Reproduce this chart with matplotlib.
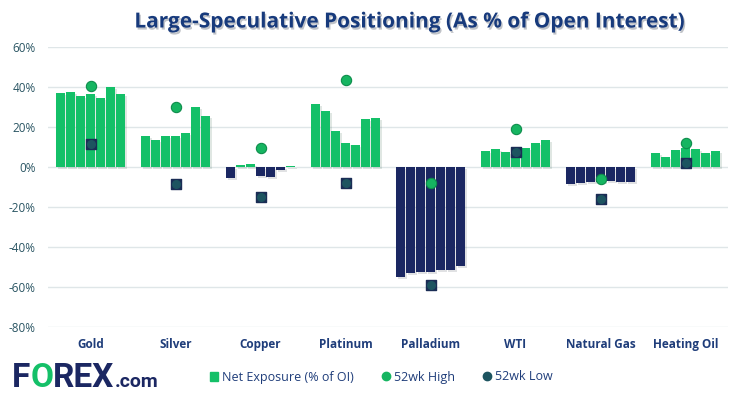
import numpy as np
import matplotlib.pyplot as plt
import matplotlib.patheffects as pe
from matplotlib.lines import Line2D
from matplotlib.patches import Patch

categories = ["Gold", "Silver", "Copper", "Platinum", "Palladium", "WTI", "Natural Gas", "Heating Oil"]
net_exposure = [
    [37, 37.5, 35.5, 36.5, 34.5, 40, 36.5],
    [15.5, 13.2, 15.5, 15.5, 16.7, 29.8, 25.2],
    [-5.8, 0.8, 1.3, -4.5, -5.3, -1.5, 0.3],
    [31.5, 27.8, 17.7, 11.7, 11, 23.7, 24.2],
    [-55, -53, -52.5, -52.5, -51.7, -51.7, -49.5],
    [8, 9, 7.5, 9, 9.5, 11.7, 13.2],
    [-8.8, -8.3, -7.5, -7.5, -7.2, -7.5, -7.8],
    [6.7, 5, 8.2, 9.2, 8.7, 6.7, 7.7],
]
high_52wk = [40.5, 30, 9.5, 43.5, -8, 18.8, -6.3, 11.7]
low_52wk = [11.3, -8.7, -15.3, -8, -59.2, 7.5, -16.3, 1.7]
yticks = [-80, -60, -40, -20, 0, 20, 40, 60]

GREEN = "#14c068"
NAVY = "#1b2762"
TEAL = "#1d5460"
TXT = "#1f3d7a"

W, H = 741, 396
fig = plt.figure(figsize=(W / 100, H / 100), dpi=100)
ax = fig.add_axes([48 / W, 69.3 / H, 680 / W, 280 / H])

pitch, width = 0.117, 0.1
shadow = [pe.withSimplePatchShadow(offset=(1.5, -1.5), alpha=0.12)]
for i, vals in enumerate(net_exposure):
    vals = np.array(vals)
    xs = i + (np.arange(len(vals)) - 3) * pitch
    cols = [GREEN if v >= 0 else NAVY for v in vals]
    bars = ax.bar(xs, vals, width=width, color=cols, zorder=2)
    for b in bars:
        b.set_path_effects(shadow)

x = np.arange(len(categories))
ax.scatter(x, low_52wk, marker="s", s=55, color="#1a2d55", zorder=3)
ax.scatter(x, low_52wk, marker="o", s=30, color=TEAL, zorder=4)
ax.scatter(x, high_52wk, marker="o", s=55, color="#16b561", edgecolors="#0e8d4c",
           linewidths=0.8, zorder=4)

ax.set_xlim(-0.5, 7.5)
ax.set_ylim(-80, 60)
ax.set_yticks(yticks)
ax.set_yticklabels([f"{v}%" for v in yticks], fontsize=8.5, color="#2a5563",
                   family="Open Sans")
ax.set_xticks(x)
ax.set_xticklabels(categories, fontsize=8.5, fontweight="bold", color=TXT,
                   family="Open Sans")
ax.tick_params(length=0)
ax.tick_params(axis="y", pad=9)
ax.tick_params(axis="x", pad=8)
ax.grid(axis="y", color="#dfe6e8", lw=1, zorder=0)
for s in ax.spines.values():
    s.set_visible(False)

fig.text(410 / W, 1 - 22 / H, "Large-Speculative Positioning (As % of Open Interest)",
         ha="center", va="center", fontsize=15, fontweight="bold", color="#173a7c",
         family="Open Sans",
         path_effects=[pe.withSimplePatchShadow(offset=(1, -1.5), alpha=0.25)])

handles = [
    Patch(color=GREEN),
    Line2D([], [], marker="o", ls="", color="#16b561", markersize=6),
    Line2D([], [], marker="o", ls="", color=TEAL, markersize=6),
]
leg = fig.legend(handles, ["Net Exposure (% of OI)", "52wk High", "52wk Low"], ncol=3,
                 loc="center", bbox_to_anchor=(381 / W, 1 - 377 / H), frameon=False,
                 handlelength=0.7, handleheight=0.7, handletextpad=0.3,
                 columnspacing=2.2, prop={"family": "Open Sans", "size": 9})
for t in leg.get_texts():
    t.set_color(TXT)

# logo
r = fig.canvas.get_renderer()
xpos = 12
for txt, col, size in [("F", NAVY, 24), ("O", GREEN, 24), ("REX", NAVY, 24), (".com", NAVY, 14)]:
    t = fig.text(xpos / W, 1 - 387 / H, txt, ha="left", va="baseline", fontsize=size,
                 fontweight="bold", color=col, family="Roboto")
    xpos += t.get_window_extent(r).width

fig.savefig("out.png", dpi=100)
